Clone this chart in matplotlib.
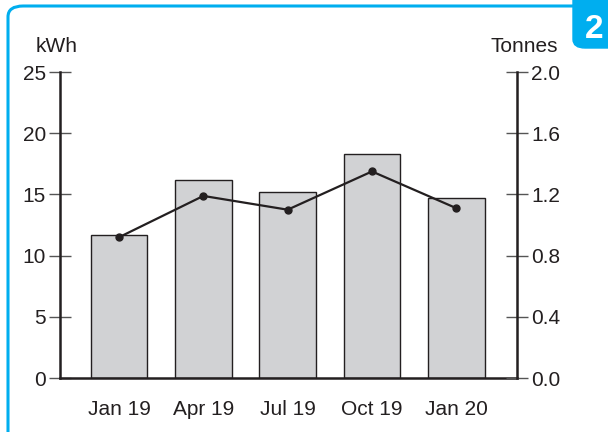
import matplotlib
matplotlib.use("Agg")
import matplotlib.pyplot as plt
from matplotlib.patches import FancyBboxPatch
import numpy as np

plt.rcParams['font.family'] = ['Liberation Sans', 'DejaVu Sans']

# data
quarters = ["Jan 19", "Apr 19", "Jul 19", "Oct 19", "Jan 20"]
kwh = [11.7, 16.2, 15.2, 18.3, 14.7]
tonnes = [0.92, 1.19, 1.10, 1.35, 1.11]
kwh_ticks = [0, 5, 10, 15, 20, 25]
tonne_ticks = [0.0, 0.4, 0.8, 1.2, 1.6, 2.0]

W, H = 608, 432
fig = plt.figure(figsize=(W / 100, H / 100), dpi=100)
txt = "#231f20"
cyan = "#00aeef"
fs = 15

# frame with rounded corner (top and left visible)
frame = FancyBboxPatch((8 / W, -0.2), 1.2, (H - 6) / H + 0.2,
                       boxstyle="round,pad=0,rounding_size=0.025",
                       transform=fig.transFigure, facecolor="none",
                       edgecolor=cyan, linewidth=2.2, zorder=0)
fig.patches.append(frame)
badge = FancyBboxPatch((573 / W, 1 - 48 / H), 0.3, 0.5,
                       boxstyle="round,pad=0,rounding_size=0.02",
                       transform=fig.transFigure, facecolor=cyan,
                       edgecolor=cyan, linewidth=1, zorder=1)
fig.patches.append(badge)
fig.text(594 / W, 1 - 29 / H, "2", color="white", fontsize=24,
         fontweight="bold", ha="center", va="center")

ax = fig.add_axes([60 / W, 54 / H, (517 - 60) / W, (378 - 72) / H])
x = np.arange(len(quarters))
ax.bar(x, kwh, width=0.67, color="#d1d2d4", edgecolor="#231f20",
       linewidth=1.0, zorder=2)
ax.set_xlim(-0.70, 4.72)
ax.set_ylim(0, 25)
ax.set_yticks(kwh_ticks)
ax.set_xticks(x)
ax.set_xticklabels(quarters, fontsize=fs, color=txt)
ax.tick_params(axis="x", length=0, pad=16)
ax.tick_params(axis="y", direction="inout", length=16, width=1.0,
               color="#555555", labelsize=fs, labelcolor=txt, pad=2)
for s in ["top", "right"]:
    ax.spines[s].set_visible(False)
ax.spines["left"].set_linewidth(1.8)
ax.spines["left"].set_color(txt)
ax.spines["bottom"].set_linewidth(1.8)
ax.spines["bottom"].set_color(txt)
ax.patch.set_visible(False)

ax2 = ax.twinx()
ax2.plot(x, tonnes, color=txt, linewidth=1.6, marker="o", markersize=5,
         zorder=3)
ax2.set_ylim(0, 2.0)
ax2.set_yticks(tonne_ticks)
ax2.set_yticklabels([f"{t:.1f}" for t in tonne_ticks])
ax2.tick_params(axis="y", direction="inout", length=16, width=1.0,
                color="#555555", labelsize=fs, labelcolor=txt, pad=2)
for s in ["top", "left", "bottom"]:
    ax2.spines[s].set_visible(False)
ax2.spines["right"].set_linewidth(1.8)
ax2.spines["right"].set_color(txt)

fig.text(57 / W, 1 - 46 / H, "kWh", fontsize=fs, color=txt,
         ha="center", va="center")
fig.text(524 / W, 1 - 46 / H, "Tonnes", fontsize=fs, color=txt,
         ha="center", va="center")

fig.savefig("out.png", dpi=100)
